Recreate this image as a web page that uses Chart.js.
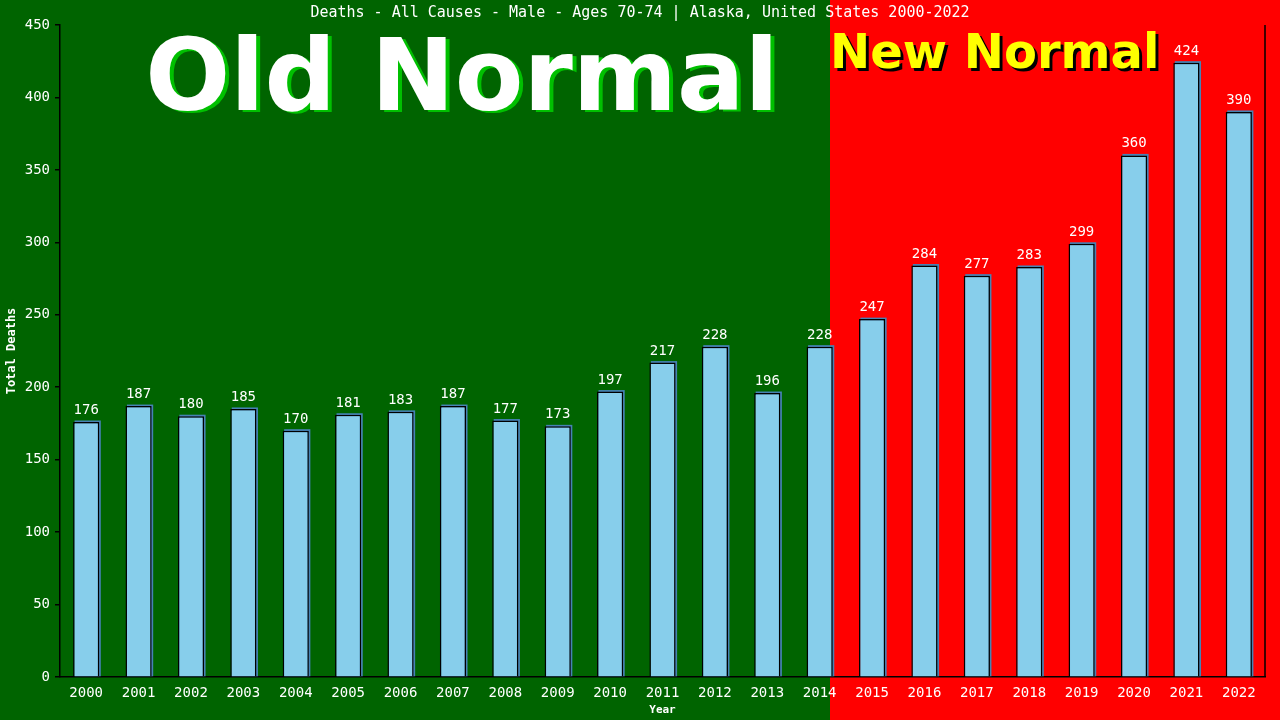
<!DOCTYPE html>
<html>
<head>
<meta charset="utf-8">
<script src="https://cdn.jsdelivr.net/npm/chart.js@4/dist/chart.umd.min.js"></script>
<style>
html,body{margin:0;padding:0;background:#006400;}
canvas{display:block;}
</style>
</head>
<body>
<canvas id="c" width="1280" height="720"></canvas>
<script>
const years = ["2000","2001","2002","2003","2004","2005","2006","2007","2008","2009","2010","2011","2012","2013","2014","2015","2016","2017","2018","2019","2020","2021","2022"];
const deaths = [176,187,180,185,170,181,183,187,177,173,197,217,228,196,228,247,284,277,283,299,360,424,390];
const yTicks = [0,50,100,150,200,250,300,350,400,450];
const titleText = "Deaths - All Causes - Male - Ages 70-74 | Alaska, United States 2000-2022";
const mono = "'DejaVu Sans Mono', 'Liberation Mono', monospace";

const decor = {
  id: 'decor',
  beforeDraw(chart) {
    const ctx = chart.ctx;
    ctx.save();
    ctx.fillStyle = '#006400';
    ctx.fillRect(0, 0, 1280, 720);
    ctx.fillStyle = '#FF0000';
    ctx.fillRect(830, 0, 450, 720);
    // Old Normal
    ctx.font = "bold 100px 'DejaVu Sans'";
    ctx.textAlign = 'center';
    ctx.textBaseline = 'alphabetic';
    ctx.fillStyle = '#00C000';
    ctx.fillText('Old Normal', 466, 112);
    ctx.fillStyle = '#FFFFFF';
    ctx.fillText('Old Normal', 462, 110);
    // New Normal
    ctx.font = "bold 48px 'DejaVu Sans'";
    ctx.textAlign = 'left';
    ctx.fillStyle = '#000000';
    ctx.fillText('New Normal', 833, 71);
    ctx.fillStyle = '#FFFF00';
    ctx.fillText('New Normal', 830, 68);
    // title
    ctx.font = "15px " + mono;
    ctx.textAlign = 'center';
    ctx.textBaseline = 'middle';
    ctx.fillStyle = '#FFFFFF';
    ctx.fillText(titleText, 640, 13);
    ctx.restore();
  },
  beforeDatasetsDraw(chart) {
    const ctx = chart.ctx;
    const meta = chart.getDatasetMeta(0);
    ctx.save();
    ctx.fillStyle = '#4682B4';
    meta.data.forEach(b => {
      const w = b.width;
      ctx.fillRect(b.x - w / 2 + 1.5, b.y - 1.5, w, b.base - b.y + 1.5);
    });
    ctx.restore();
  },
  afterDatasetsDraw(chart) {
    const ctx = chart.ctx;
    const meta = chart.getDatasetMeta(0);
    const area = chart.chartArea;
    ctx.save();
    ctx.font = "14px " + mono;
    ctx.textAlign = 'center';
    ctx.textBaseline = 'alphabetic';
    ctx.fillStyle = '#FFFFFF';
    meta.data.forEach((b, i) => {
      ctx.fillText(String(deaths[i]), b.x, b.y - 8);
    });
    ctx.strokeStyle = '#000';
    ctx.lineWidth = 1.5;
    ctx.beginPath();
    ctx.moveTo(area.right, area.top);
    ctx.lineTo(area.right, area.bottom);
    ctx.stroke();
    ctx.restore();
  }
};

new Chart(document.getElementById('c'), {
  type: 'bar',
  data: {
    labels: years,
    datasets: [{
      data: deaths,
      backgroundColor: '#87CEEB',
      borderColor: '#000000',
      borderWidth: 1.5,
      barPercentage: 0.5,
      categoryPercentage: 1.0
    }]
  },
  options: {
    responsive: false,
    animation: false,
    devicePixelRatio: 1,
    layout: { padding: { top: 25, right: 15, left: 0, bottom: 0 } },
    plugins: { legend: { display: false }, tooltip: { enabled: false }, title: { display: false } },
    scales: {
      x: {
        grid: { display: false },
        border: { display: true, color: '#000', width: 1.5 },
        ticks: { color: '#FFFFFF', font: { family: mono, size: 14 }, padding: 0, maxRotation: 0, autoSkip: false },
        title: { display: true, text: 'Year', color: '#FFFFFF', font: { family: mono, size: 11, weight: 'bold' }, padding: { top: 0, bottom: 3 } },
        afterFit(s) { s.height = 43; }
      },
      y: {
        min: 0, max: 450,
        afterBuildTicks(s) { s.ticks = yTicks.map(v => ({ value: v })); },
        grid: { drawOnChartArea: false, drawTicks: true, tickLength: 5, color: '#000', lineWidth: 1.5 },
        border: { display: true, color: '#000', width: 1.5 },
        ticks: { color: '#FFFFFF', font: { family: mono, size: 14 }, padding: 5 },
        title: { display: true, text: 'Total Deaths', color: '#FFFFFF', font: { family: mono, size: 12, weight: 'bold' }, padding: { top: 5, bottom: 0 } },
        afterFit(s) { s.width = 60; }
      }
    }
  },
  plugins: [decor]
});
</script>
</body>
</html>
